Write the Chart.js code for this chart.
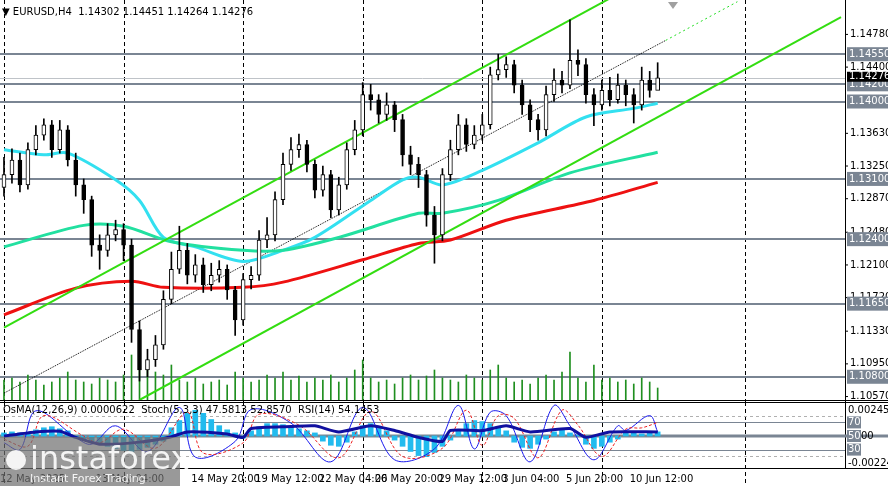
<!DOCTYPE html>
<html><head><meta charset="utf-8">
<script src="https://cdn.jsdelivr.net/npm/chart.js@4"></script>
<style>body{margin:0;background:#fff}canvas{display:block}</style>
</head><body>
<canvas id="main" width="888" height="402"></canvas>
<canvas id="ind" width="888" height="84"></canvas>
<script>
// --- DATA ---
const closes = [1.1315,1.1332,1.1303,1.1344,1.1361,1.1373,1.1344,1.1367,1.1332,1.1303,1.1286,1.1233,1.1227,1.1245,1.1251,1.1233,1.1135,1.1088,1.1100,1.1117,1.1170,1.1205,1.1227,1.1198,1.1210,1.1187,1.1198,1.1205,1.1181,1.1146,1.1193,1.1198,1.1239,1.1245,1.1286,1.1327,1.1344,1.1350,1.1327,1.1297,1.1315,1.1274,1.1303,1.1344,1.1367,1.1408,1.1402,1.1385,1.1396,1.1379,1.1338,1.1327,1.1315,1.1268,1.1245,1.1315,1.1344,1.1373,1.1350,1.1361,1.1373,1.1431,1.1437,1.1443,1.1419,1.1396,1.1379,1.1367,1.1408,1.1425,1.1419,1.1448,1.1443,1.1408,1.1396,1.1413,1.1402,1.1419,1.1408,1.1396,1.1425,1.1413,1.14276];
const highs = [1.1335,1.1345,1.1340,1.1352,1.1372,1.1380,1.1378,1.1378,1.1372,1.1340,1.1310,1.1290,1.1245,1.1258,1.1262,1.1258,1.1240,1.1145,1.1112,1.1128,1.1180,1.1225,1.1255,1.1235,1.1222,1.1218,1.1212,1.1215,1.1210,1.1185,1.1200,1.1208,1.1250,1.1265,1.1295,1.1340,1.1358,1.1362,1.1355,1.1332,1.1325,1.1320,1.1312,1.1352,1.1378,1.1422,1.1420,1.1408,1.1410,1.1400,1.1385,1.1348,1.1335,1.1320,1.1278,1.1322,1.1355,1.1385,1.1380,1.1372,1.1385,1.1440,1.1455,1.1452,1.1448,1.1425,1.1402,1.1385,1.1418,1.1438,1.1435,1.1495,1.1460,1.1450,1.1415,1.1425,1.1428,1.1432,1.1425,1.1415,1.1440,1.1435,1.14451];
const lows = [1.1290,1.1305,1.1295,1.1298,1.1338,1.1355,1.1335,1.1340,1.1325,1.1290,1.1270,1.1220,1.1205,1.1220,1.1238,1.1215,1.1120,1.1075,1.1080,1.1092,1.1112,1.1165,1.1200,1.1188,1.1190,1.1178,1.1180,1.1190,1.1170,1.1128,1.1140,1.1182,1.1192,1.1230,1.1238,1.1280,1.1320,1.1335,1.1318,1.1288,1.1290,1.1265,1.1268,1.1298,1.1338,1.1360,1.1390,1.1375,1.1378,1.1365,1.1325,1.1315,1.1300,1.1255,1.1212,1.1238,1.1308,1.1338,1.1342,1.1345,1.1355,1.1368,1.1425,1.1428,1.1410,1.1385,1.1365,1.1355,1.1360,1.1400,1.1410,1.1415,1.1430,1.1398,1.1372,1.1390,1.1395,1.1398,1.1395,1.1375,1.1390,1.1405,1.14264];
const firstOpen = 1.1300;
const volumes = [20,22,18,25,20,15,18,22,28,20,18,16,22,20,18,25,45,40,30,28,25,35,20,18,22,16,18,20,15,28,22,18,20,25,22,28,20,24,18,22,20,25,18,22,30,40,22,18,20,16,22,25,20,24,30,22,20,18,25,22,20,30,35,22,18,20,16,22,25,20,28,48,22,18,35,20,22,18,20,16,22,18,12];

const maFast = [[0,1.1344],[5,1.1338],[8,1.1340],[14,1.1309],[17,1.1285],[20,1.1242],[24,1.1231],[30,1.1214],[35,1.1227],[39,1.1242],[46,1.1285],[50,1.1309],[52,1.1312],[55,1.1303],[60,1.1320],[67,1.1352],[73,1.1382],[79,1.1392],[82,1.1398]];
const maMid = [[0,1.1231],[10,1.1256],[15,1.1255],[21,1.1237],[30,1.1227],[35,1.1227],[42,1.1242],[52,1.1270],[55,1.1270],[62,1.1285],[71,1.1317],[82,1.1341]];
const maSlow = [[0,1.1152],[9,1.1183],[16,1.1191],[20,1.1184],[30,1.1184],[35,1.1190],[45,1.1216],[52,1.1235],[56,1.1239],[63,1.1262],[74,1.1285],[82,1.1306]];
const channelUp = [[0,1.1137],[80,1.1540]];
const channelDn = [[17,1.1053],[105,1.1498]];
const channelMid = [[0,1.1061],[83,1.1471]];
const channelExt = [[83,1.1471],[92,1.1516]];

const levels = [1.1455,1.1420,1.1400,1.1310,1.1240,1.1165,1.1080];
const priceTicks = [1.14780,1.14400,1.13630,1.13250,1.12870,1.12480,1.12100,1.11720,1.11330,1.10950,1.10570];
const lastPrice = 1.14276;

const osma = [3,4,3,2,6,8,9,7,5,-2,-4,-6,-8,-10,-12,-14,-15,-13,-11,-8,-5,8,15,22,25,22,16,10,6,3,-2,5,9,12,12,11,9,7,5,3,-5,-9,-10,-6,4,10,12,9,5,-4,-10,-15,-19,-20,-16,-10,-4,6,12,15,14,12,9,5,-6,-11,-12,-8,-3,4,6,3,1,-8,-12,-10,-6,-3,3,4,2,3,4];
const rsi = [[0,50],[4,56],[7,57],[9,48],[12,38],[17,41],[21,49],[23,56],[28,53],[30,48],[31,61],[36,64],[39,65],[42,56],[46,65],[49,58],[52,48],[55,42],[56,58],[60,58],[63,65],[66,56],[71,61],[73,48],[76,56],[82,56]];
const stochK = [[0,40],[2,30],[4,87],[9,48],[11,38],[14,65],[18,27],[22,92],[24,19],[29,42],[31,89],[36,69],[41,12],[45,92],[49,15],[54,31],[57,95],[59,31],[61,85],[63,80],[66,12],[69,95],[71,65],[74,15],[77,65],[78,58],[81,80],[82,56]];
const stochD = [[0,45],[3,35],[5,80],[10,50],[12,40],[15,60],[19,32],[23,85],[25,25],[30,40],[32,82],[37,66],[42,18],[46,86],[50,20],[55,32],[58,88],[60,36],[62,80],[64,76],[67,18],[70,88],[72,66],[75,20],[78,60],[80,62],[82,70]];
const timeLabels = ["12 May 2025","13 May 04:00","14 May 20:00","19 May 12:00","22 May 04:00","26 May 20:00","29 May 12:00","3 Jun 04:00","5 Jun 20:00","10 Jun 12:00"];
const timeIdx = [0,12,24,32,40,47,55,63,71,79];
const gridIdx = [0,15,30,45,60,75,93];

const N = 106;
const labels = Array.from({length: N}, (_, i) => i);
const opens = closes.map((c, i) => i === 0 ? firstOpen : closes[i - 1]);
const pts = arr => arr.map(([x, y]) => ({x, y}));
const FONT = '"DejaVu Sans", sans-serif';

function lineDs(data, color, width, extra) {
  return Object.assign({ type: 'line', data: pts(data), borderColor: color, borderWidth: width, pointRadius: 0, tension: 0.3, yAxisID: 'y' }, extra || {});
}

const mainBg = {
  id: 'mainBg',
  beforeDatasetsDraw(chart) {
    const { ctx, chartArea: a, scales: { x, y } } = chart;
    ctx.save();
    ctx.strokeStyle = '#000'; ctx.lineWidth = 1; ctx.setLineDash([4, 3]);
    gridIdx.forEach(i => { const px = Math.round(x.getPixelForValue(i)) + 0.5; ctx.beginPath(); ctx.moveTo(px, 0); ctx.lineTo(px, 486); ctx.stroke(); });
    ctx.setLineDash([]);
    ctx.strokeStyle = '#bfc3c8';
    const lp = Math.round(y.getPixelForValue(lastPrice)) + 0.5;
    ctx.beginPath(); ctx.moveTo(0, lp); ctx.lineTo(a.right, lp); ctx.stroke();
    ctx.strokeStyle = '#7a8593'; ctx.lineWidth = 2;
    levels.forEach(v => { const py = Math.round(y.getPixelForValue(v)); ctx.beginPath(); ctx.moveTo(0, py); ctx.lineTo(a.right + 43, py); ctx.stroke(); });
    ctx.restore();
  },
  afterDraw(chart) {
    const { ctx, chartArea: a, scales: { y } } = chart;
    ctx.save();
    ctx.fillStyle = '#fff'; ctx.fillRect(a.right + 1, 0, 43, 402);
    ctx.strokeStyle = '#000'; ctx.lineWidth = 1;
    ctx.beginPath(); ctx.moveTo(a.right + 0.5, 0); ctx.lineTo(a.right + 0.5, 402); ctx.moveTo(0, 400.5); ctx.lineTo(888, 400.5); ctx.stroke();
    ctx.font = '10px ' + FONT; ctx.textBaseline = 'middle'; ctx.fillStyle = '#000';
    priceTicks.forEach(v => {
      const py = y.getPixelForValue(v);
      ctx.beginPath(); ctx.moveTo(a.right, py); ctx.lineTo(a.right + 3, py); ctx.stroke();
      ctx.fillText(v.toFixed(5), a.right + 5, py);
    });
    levels.forEach(v => {
      const py = y.getPixelForValue(v);
      ctx.fillStyle = '#7a8593'; ctx.fillRect(a.right + 2, py - 7, 41, 14);
      ctx.fillStyle = '#fff'; ctx.fillText(v.toFixed(5), a.right + 4, py);
    });
    const lp = y.getPixelForValue(lastPrice);
    ctx.fillStyle = '#000'; ctx.fillRect(a.right + 2, lp - 6, 41, 10);
    ctx.fillStyle = '#fff'; ctx.fillText(lastPrice.toFixed(5), a.right + 4, lp - 1);
    ctx.fillStyle = '#000'; ctx.font = '10px ' + FONT; ctx.textBaseline = 'alphabetic';
    ctx.fillText('▼ EURUSD,H4  1.14302 1.14451 1.14264 1.14276', 2, 15);
    ctx.fillStyle = '#a0a0a0';
    ctx.beginPath(); ctx.moveTo(668, 2); ctx.lineTo(678, 2); ctx.lineTo(673, 9); ctx.fill();
    ctx.restore();
  }
};

new Chart(document.getElementById('main'), {
  data: {
    labels,
    datasets: [
      { type: 'bar', data: volumes, backgroundColor: '#1f8f1f', barThickness: 1, yAxisID: 'yVol', grouped: false, order: 10 },
      lineDs(channelMid, '#000', 1, { borderDash: [1, 1], tension: 0, order: 6 }),
      lineDs(channelExt, '#22dd22', 1, { borderDash: [2, 3], tension: 0, order: 6 }),
      lineDs(maSlow, '#ee1111', 3, { order: 5 }),
      lineDs(maMid, '#22e0a0', 3, { order: 5 }),
      lineDs(maFast, '#33e0f0', 3, { order: 5 }),
      lineDs(channelUp, '#33dd11', 2, { tension: 0, order: 4 }),
      lineDs(channelDn, '#33dd11', 2, { tension: 0, order: 4 }),
      { type: 'bar', data: closes.map((c, i) => [lows[i], highs[i]]), backgroundColor: '#000', barThickness: 1, yAxisID: 'y', grouped: false, order: 2 },
      { type: 'bar', data: closes.map((c, i) => [opens[i], c]), backgroundColor: closes.map((c, i) => c >= opens[i] ? '#fff' : '#000'), borderColor: '#000', borderWidth: 1, borderSkipped: false, barThickness: 4, yAxisID: 'y', grouped: false, order: 1 }
    ]
  },
  options: {
    responsive: false, animation: false, devicePixelRatio: 1,
    layout: { padding: { left: 0, right: 43, top: 0, bottom: 2 } },
    plugins: { legend: { display: false }, tooltip: { enabled: false } },
    scales: {
      x: { type: 'category', offset: true, display: false },
      y: { min: 1.1053, max: 1.1518, display: false },
      yVol: { axis: 'y', min: 0, max: 400, display: false }
    }
  },
  plugins: [mainBg]
});

const indDraw = {
  id: 'indDraw',
  beforeDatasetsDraw(chart) {
    const { ctx, chartArea: a, scales: { x, yRsi } } = chart;
    ctx.save();
    ctx.strokeStyle = '#000'; ctx.lineWidth = 1; ctx.setLineDash([4, 3]);
    gridIdx.forEach(i => { const px = Math.round(x.getPixelForValue(i)) + 0.5; ctx.beginPath(); ctx.moveTo(px, 0); ctx.lineTo(px, 84); ctx.stroke(); });
    ctx.strokeStyle = '#b0b0b0'; ctx.setLineDash([3, 3]);
    [80, 20].forEach(v => { const py = Math.round(yRsi.getPixelForValue(v)) + 0.5; ctx.beginPath(); ctx.moveTo(0, py); ctx.lineTo(a.right, py); ctx.stroke(); });
    ctx.setLineDash([]); ctx.strokeStyle = '#7a8593';
    [70, 30].forEach(v => { const py = Math.round(yRsi.getPixelForValue(v)) + 0.5; ctx.beginPath(); ctx.moveTo(0, py); ctx.lineTo(a.right + 43, py); ctx.stroke(); });
    ctx.lineWidth = 3;
    const p50 = Math.round(yRsi.getPixelForValue(50)); ctx.beginPath(); ctx.moveTo(0, p50); ctx.lineTo(a.right + 43, p50); ctx.stroke();
    ctx.restore();
  },
  afterDraw(chart) {
    const { ctx, chartArea: a, scales: { x, yRsi } } = chart;
    ctx.save();
    ctx.fillStyle = '#fff'; ctx.fillRect(a.right + 1, 0, 43, 70);
    ctx.strokeStyle = '#000'; ctx.lineWidth = 1;
    ctx.beginPath(); ctx.moveTo(a.right + 0.5, 0); ctx.lineTo(a.right + 0.5, 67); ctx.moveTo(0, 66.5); ctx.lineTo(888, 66.5); ctx.moveTo(0, 0.5); ctx.lineTo(888, 0.5); ctx.stroke();
    ctx.font = '10px ' + FONT; ctx.textBaseline = 'middle'; ctx.fillStyle = '#000';
    ctx.fillText('0.0024562', a.right + 3, 8);
    ctx.fillText('-0.002249', a.right + 3, 61);
    ctx.strokeStyle = '#7a8593'; ctx.lineWidth = 3;
    const p50 = Math.round(yRsi.getPixelForValue(50)); ctx.beginPath(); ctx.moveTo(a.right, p50); ctx.lineTo(888, p50); ctx.stroke();
    [[70, '70'], [50, '50'], [30, '30']].forEach(([v, t]) => {
      const py = yRsi.getPixelForValue(v);
      ctx.fillStyle = '#7a8593'; ctx.fillRect(a.right + 2, py - 6, 14, 12);
      ctx.fillStyle = '#fff'; ctx.fillText(t, a.right + 3, py);
    });
    ctx.fillStyle = '#000'; ctx.fillText('00', a.right + 16, yRsi.getPixelForValue(50));
    ctx.fillText('OsMA(12,26,9) 0.0000622  Stoch(5,3,3) 47.5813 52.8570  RSI(14) 54.1453', 3, 8);
    ctx.textBaseline = 'alphabetic';
    timeLabels.forEach((t, k) => ctx.fillText(t, x.getPixelForValue(timeIdx[k]) - 4, 80));
    // watermark
    ctx.fillStyle = 'rgba(110,110,110,0.7)'; ctx.fillRect(0, 35, 180, 49);
    ctx.fillStyle = 'rgba(255,255,255,0.9)'; ctx.font = '32px ' + FONT; ctx.fillText('instaforex', 30, 67);
    ctx.font = '11px ' + FONT; ctx.fillText('Instant Forex Trading', 30, 80);
    ctx.beginPath(); ctx.arc(16, 58, 10, 0, Math.PI * 2); ctx.fill();
    ctx.restore();
  }
};

new Chart(document.getElementById('ind'), {
  data: {
    labels,
    datasets: [
      { type: 'bar', data: osma.map(v => v * 0.0001), backgroundColor: '#22bbee', barThickness: 5, yAxisID: 'yOsma', order: 5 },
      lineDs(stochK, '#1a1aee', 1, { yAxisID: 'yRsi', tension: 0.35, order: 3 }),
      lineDs(stochD, '#ee2222', 1, { yAxisID: 'yRsi', borderDash: [3, 2], tension: 0.35, order: 2 }),
      lineDs(rsi, '#1010a0', 3, { yAxisID: 'yRsi', tension: 0.2, order: 1 })
    ]
  },
  options: {
    responsive: false, animation: false, devicePixelRatio: 1,
    layout: { padding: { left: 0, right: 43, top: 0, bottom: 16 } },
    plugins: { legend: { display: false }, tooltip: { enabled: false } },
    scales: {
      x: { type: 'category', offset: true, display: false },
      yRsi: { axis: 'y', min: 0, max: 100, display: false },
      yOsma: { axis: 'y', min: -0.0033, max: 0.0033, display: false }
    }
  },
  plugins: [indDraw]
});
</script>
</body></html>
